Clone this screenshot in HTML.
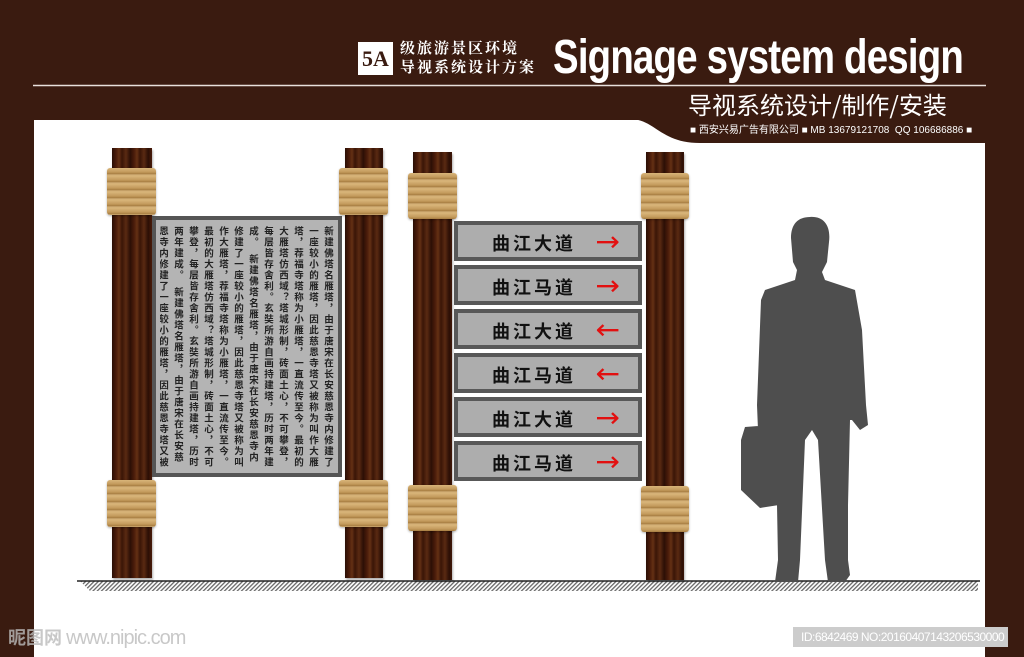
<!DOCTYPE html>
<html><head><meta charset="utf-8"><style>
*{margin:0;padding:0;box-sizing:border-box}
body{width:1024px;height:657px;overflow:hidden;background:#3a1b10;position:relative;font-family:"Liberation Sans","Noto Sans CJK SC",sans-serif}
.a{position:absolute}
.wood{position:absolute;background:repeating-linear-gradient(90deg,#2a0e05 0,#4a1c0a 4px,#643014 7px,#3a1507 10px,#5a2a12 14px,#2e1006 18px);box-shadow:1px 2px 2px rgba(0,0,0,.3)}
.rope{position:absolute;background:repeating-linear-gradient(180deg,#d9b57a 0,#c39a5c 4px,#a67c42 6px,#e0c088 7px,#caa266 8px);border-radius:3px;box-shadow:0 1px 2px rgba(0,0,0,.3)}
.sign{position:absolute;left:454px;width:188px;height:40px;background:#adadad;border:4px solid #585858;font:bold 18px "Noto Sans CJK SC",sans-serif;color:#111;letter-spacing:3px}
.sign span{position:absolute;left:34px;top:5px}
.sign b{position:absolute;left:138px;top:0px;color:#e21010;font:28px "DejaVu Sans",sans-serif;letter-spacing:0;transform:scaleX(1.05)}
.txt{position:absolute;left:160px;top:226px;width:176px;height:244px;writing-mode:vertical-rl;font:bold 9.5px "Noto Sans CJK SC",sans-serif;line-height:15px;color:#222;letter-spacing:1.5px;overflow:hidden}
</style></head><body>
<div class="a" style="left:34px;top:120px;width:951px;height:537px;background:#fff"></div>
<svg class="a" style="left:0;top:0" width="1024" height="657"><path d="M630 119 C655 119 660 143 700 143 L986 143 L986 119 Z" fill="#3a1b10"/>
<line x1="33" y1="85.5" x2="986" y2="85.5" stroke="#e8e0dc" stroke-width="1.5"/>
<defs><pattern id="h" width="3" height="3" patternUnits="userSpaceOnUse" patternTransform="rotate(45)"><rect width="1.3" height="3" fill="#666"/></pattern></defs>
<polygon points="80,581 978,581 978,591 90,591" fill="url(#h)"/>
<line x1="77" y1="581" x2="980" y2="581" stroke="#222" stroke-width="1.5"/>
<path d="M810 217 C824 216 831 226 829 242 L827 262 L822 272 L825 280 L855 290 L862 330 L866 405 L868 425 L860 430 L852 420 L850 420 L848 505 L848 560 L850 575 L845 582 L828 582 L825 560 L818 440 L812 430 L805 440 L800 560 L798 582 L775 582 L778 560 L777 505 L776 440 L770 435 L758 430 L757 405 L761 300 L765 290 L795 280 L797 270 L793 262 L791 238 C791 224 798 217 810 217 Z M745 427 L771 425 L779 440 L779 505 L760 508 L741 490 L741 440 Z" fill="#4e4e4e"/>
</svg>
<div class="a" style="left:358px;top:42px;width:35px;height:33px;background:#fff;color:#3a1b10;font:bold 22px 'Liberation Serif',serif;text-align:center;line-height:33px">5A</div>
<div class="a" style="left:400px;top:38px;color:#fff;font:bold 15px 'Noto Serif CJK SC',serif;line-height:19px;letter-spacing:2px">级旅游景区环境<br>导视系统设计方案</div>
<div class="a" style="left:553px;top:30px;color:#fff;font:bold 48px 'Liberation Sans',sans-serif;transform:scaleX(.8);transform-origin:0 0;white-space:nowrap;letter-spacing:-1px">Signage system design</div>
<div class="a" style="left:688px;top:89px;color:#fff;font:24px 'Noto Sans CJK SC',sans-serif;line-height:30px;white-space:nowrap">导视系统设计/制作/安装</div>
<div class="a" style="left:690px;top:121px;color:#fff;font:10px 'Liberation Sans','Noto Sans CJK SC',sans-serif;white-space:nowrap">■ 西安兴易广告有限公司 ■ MB 13679121708&nbsp; QQ 106686886 ■</div>

<div class="wood" style="left:112px;top:148px;width:40px;height:430px"></div>
<div class="wood" style="left:345px;top:148px;width:38px;height:430px"></div>
<div class="wood" style="left:413px;top:152px;width:39px;height:428px"></div>
<div class="wood" style="left:646px;top:152px;width:38px;height:428px"></div>
<div class="a" style="left:152px;top:216px;width:190px;height:261px;background:#b4b4b4;border:4px solid #555"></div>
<div class="txt">新建佛塔名雁塔，由于唐宋在长安慈恩寺内修建了一座较小的雁塔，因此慈恩寺塔又被称为叫作大雁塔，荐福寺塔称为小雁塔，一直流传至今。最初的大雁塔仿西域？塔城形制，砖面土心，不可攀登，每层皆存舍利。玄奘所游自画持建塔，历时两年建成。　新建佛塔名雁塔，由于唐宋在长安慈恩寺内修建了一座较小的雁塔，因此慈恩寺塔又被称为叫作大雁塔，荐福寺塔称为小雁塔，一直流传至今。最初的大雁塔仿西域？塔城形制，砖面土心，不可攀登，每层皆存舍利。玄奘所游自画持建塔，历时两年建成。　新建佛塔名雁塔，由于唐宋在长安慈恩寺内修建了一座较小的雁塔，因此慈恩寺塔又被称为叫作大雁塔，荐福寺塔称为小雁塔，一直流传至今。最初的大雁塔仿西域？塔城形制，砖面土心，不可攀登，每层皆存舍利。玄奘所游自画持建塔，历时两年建成。</div>
<div class="sign" style="top:221px"><span>曲江大道</span><b>→</b></div>
<div class="sign" style="top:265px"><span>曲江马道</span><b>→</b></div>
<div class="sign" style="top:309px"><span>曲江大道</span><b>←</b></div>
<div class="sign" style="top:353px"><span>曲江马道</span><b>←</b></div>
<div class="sign" style="top:397px"><span>曲江大道</span><b>→</b></div>
<div class="sign" style="top:441px"><span>曲江马道</span><b>→</b></div>
<div class="rope" style="left:107px;top:168px;width:49px;height:47px"></div>
<div class="rope" style="left:107px;top:480px;width:49px;height:47px"></div>
<div class="rope" style="left:339px;top:168px;width:49px;height:47px"></div>
<div class="rope" style="left:339px;top:480px;width:49px;height:47px"></div>
<div class="rope" style="left:408px;top:173px;width:49px;height:46px"></div>
<div class="rope" style="left:408px;top:485px;width:49px;height:46px"></div>
<div class="rope" style="left:641px;top:173px;width:48px;height:46px"></div>
<div class="rope" style="left:641px;top:486px;width:48px;height:46px"></div>
<div class="a" style="left:8px;top:624px;color:#bbb;font:bold 18px 'Noto Sans CJK SC',sans-serif;white-space:nowrap;opacity:.8">昵图网 <span style="font:20px 'Liberation Sans Narrow','Liberation Sans';letter-spacing:-1px">www.nipic.com</span></div>
<div class="a" style="left:793px;top:627px;width:215px;height:20px;background:#ccc;color:#fff;font:12px 'Liberation Sans Narrow','Liberation Sans',sans-serif;line-height:20px;padding-left:8px;white-space:nowrap;letter-spacing:-.5px">ID:6842469 NO:20160407143206530000</div>
</body></html>
